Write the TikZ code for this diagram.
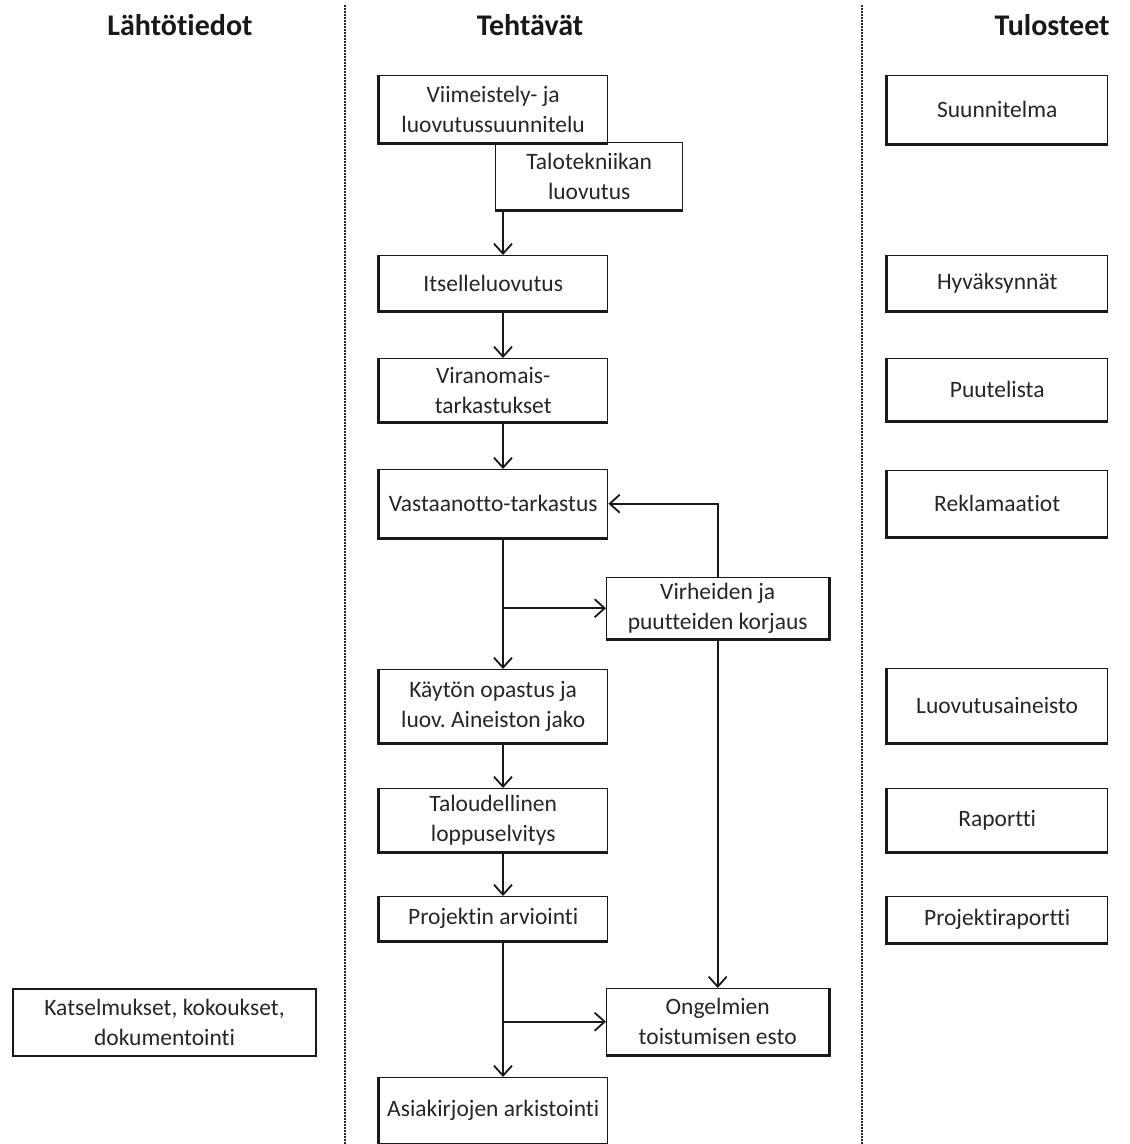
\documentclass[tikz,border=0pt]{standalone}
\usepackage{fontspec}
\setmainfont{Carlito}[Ligatures=NoCommon]
\usetikzlibrary{arrows.meta,calc}
\frenchspacing
\begin{document}
\begin{tikzpicture}[x=1pt,y=-1pt,
  every node/.style={font=\fontsize{23.5}{30}\selectfont, text=black!85},
  bx/.style={draw=black!90, line width=1.4pt, fill=white, anchor=north west, inner sep=0pt, align=center},
  hdr/.style={font=\fontsize{30}{34}\selectfont\bfseries, text=black!90},
  arr/.style={draw=black!90, line width=1.8pt, -{Straight Barb[length=10pt,width=18pt,line width=1.8pt]}},
  sep/.style={draw=black!85, line width=2.2pt, dash pattern=on 1.5pt off 1.5pt},
  thk/.style={draw=black!90, line width=3pt}]
\useasboundingbox[fill=white] (0,0) rectangle (1130,1144);

% headers
\node[hdr] (h1) at (180,25) {Lähtötiedot};
\node[hdr] (h2) at (530,25) {Tehtävät};
\node[hdr] (h3) at (1052,25) {Tulosteet};

% separators
\coordinate (s1t) at (345,5); \coordinate (s1b) at (345,1144);
\coordinate (s2t) at (862,5); \coordinate (s2b) at (862,1144);
\draw[sep] (s1t) -- (s1b);
\draw[sep] (s2t) -- (s2b);

% middle column
\node[bx, minimum width=229pt, minimum height=67pt] (v1) at (378,75) {Viimeistely- ja\\luovutussuunnitelu};
\node[bx, minimum width=187pt, minimum height=67pt] (v2) at (495,142) {Talotekniikan\\luovutus};
\node[bx, minimum width=229pt, minimum height=55pt] (v3) at (378,255) {Itselleluovutus};
\node[bx, minimum width=229pt, minimum height=63pt] (v4) at (378,358) {Viranomais-\\tarkastukset};
\node[bx, minimum width=229pt, minimum height=68pt] (v5) at (378,469) {Vastaanotto-tarkastus};
\node[bx, minimum width=222pt, minimum height=61pt] (v6) at (606,577) {Virheiden ja\\puutteiden korjaus};
\node[bx, minimum width=229pt, minimum height=73pt] (v7) at (378,669) {Käytön opastus ja\\luov. Aineiston jako};
\node[bx, minimum width=229pt, minimum height=63pt] (v8) at (378,788) {Taloudellinen\\loppuselvitys};
\node[bx, minimum width=229pt, minimum height=44pt] (v9) at (378,896) {Projektin arviointi};
\node[bx, minimum width=222pt, minimum height=66pt] (v10) at (606,988) {Ongelmien\\toistumisen esto};
\node[bx, minimum width=229pt, minimum height=66pt] (v11) at (378,1077) {Asiakirjojen arkistointi};

% left column
\node[bx, minimum width=303pt, minimum height=67pt, line width=2pt] (k) at (12,988) {Katselmukset, kokoukset,\\dokumentointi};

% right column
\node[bx, minimum width=221pt, minimum height=68pt] (r1) at (886,75) {Suunnitelma};
\node[bx, minimum width=221pt, minimum height=55pt] (r2) at (886,255) {Hyväksynnät};
\node[bx, minimum width=221pt, minimum height=62pt] (r3) at (886,358) {Puutelista};
\node[bx, minimum width=221pt, minimum height=66pt] (r4) at (886,470) {Reklamaatiot};
\node[bx, minimum width=221pt, minimum height=74pt] (r5) at (886,668) {Luovutusaineisto};
\node[bx, minimum width=221pt, minimum height=63pt] (r6) at (886,788) {Raportti};
\node[bx, minimum width=221pt, minimum height=46pt] (r7) at (886,896) {Projektiraportti};

% heavy left/bottom edges
\foreach \n in {v1,v3,v4,v5,v7,v8,v9,v11,r1,r2,r3,r4,r5,r6,r7}{
  \draw[thk] (\n.north west) -- (\n.south west) -- (\n.south east);
}
\draw[thk] (v2.south west) -- (v2.south east);
\foreach \n in {v6,v10}{
  \draw[thk] (\n.north east) -- (\n.south east) -- (\n.south west);
}

% connectors
\coordinate (cx) at (503,0);
\draw[arr] (v2.south -| cx) -- (v3.north -| cx);
\draw[arr] (v3.south -| cx) -- (v4.north -| cx);
\draw[arr] (v4.south -| cx) -- (v5.north -| cx);
\draw[arr] (v5.south -| cx) -- (v7.north -| cx);
\draw[arr] (cx |- v6.west) -- (v6.west);
\draw[arr] (v6.north) |- (v5.east);
\draw[arr] (v6.south) -- (v10.north);
\draw[arr] (v7.south -| cx) -- (v8.north -| cx);
\draw[arr] (v8.south -| cx) -- (v9.north -| cx);
\draw[arr] (v9.south -| cx) -- (v11.north -| cx);
\draw[arr] (cx |- v10.west) -- (v10.west);
\end{tikzpicture}
\end{document}
